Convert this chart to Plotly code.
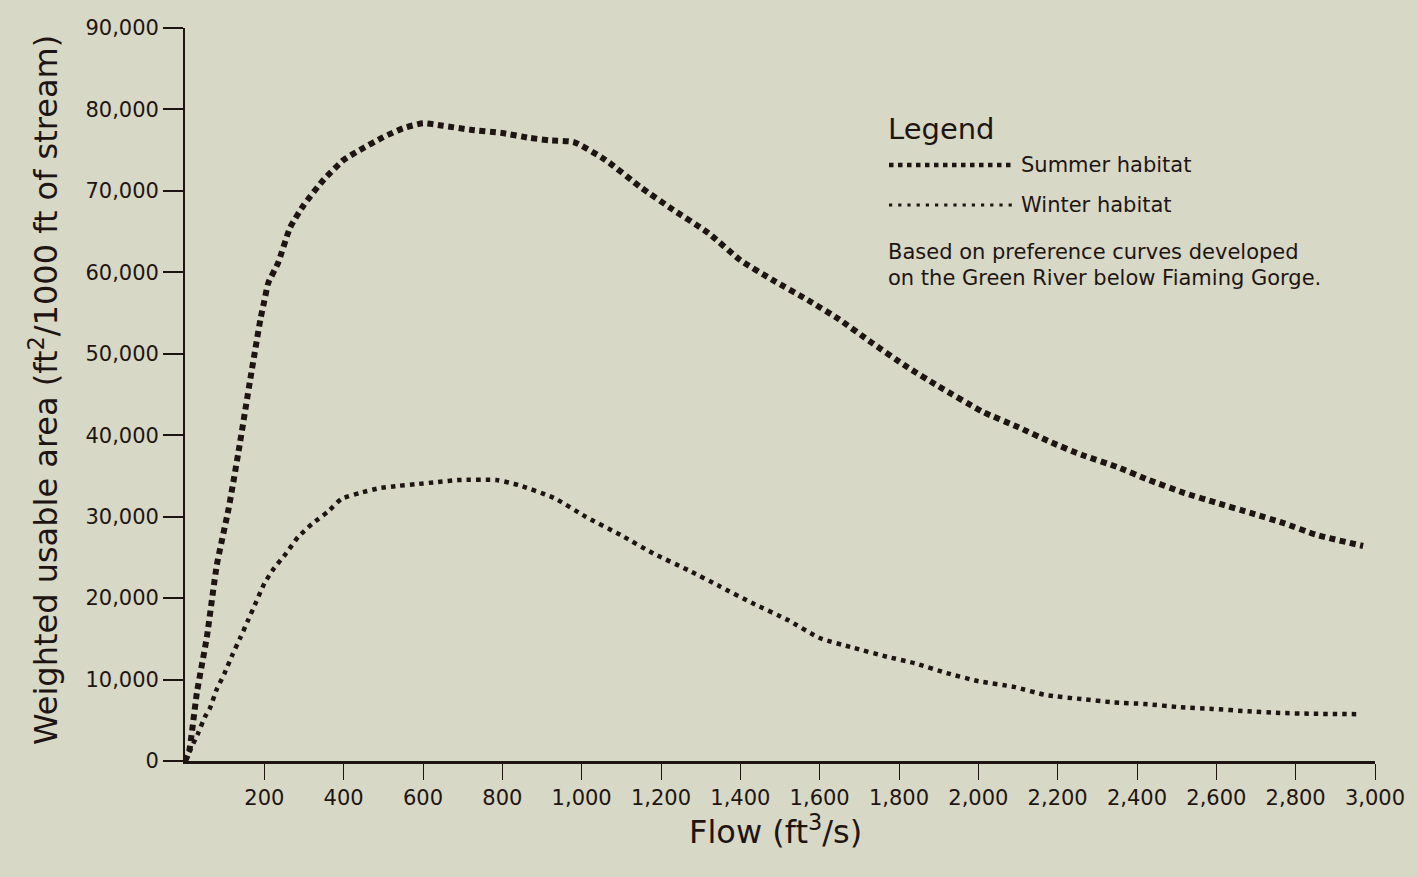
import plotly.graph_objects as go

# ---- data ----
summer_flow = [0, 10, 30, 55, 80, 110, 135, 165, 190, 200, 210, 235, 265, 300, 350, 400, 440, 500,
               550, 600, 650, 720, 800, 870, 920, 980, 1060, 1150, 1230, 1320, 1400, 1480, 1570,
               1650, 1730, 1820, 1900, 2010, 2100, 2180, 2260, 2350, 2430, 2520, 2600, 2690, 2770,
               2850, 2970]
summer_wua = [0, 1100, 8400, 15200, 24000, 31000, 38000, 47000, 54200, 56500, 58700, 61200, 65500,
              68300, 71400, 73800, 75000, 76600, 77700, 78300, 78000, 77500, 77100, 76500, 76200,
              76000, 73800, 70400, 67700, 64800, 61500, 59100, 56600, 54200, 51400, 48400, 46000,
              42900, 41000, 39200, 37600, 36100, 34500, 32900, 31700, 30400, 29200, 27800, 26400]

winter_flow = [0, 33, 50, 63, 80, 100, 120, 140, 160, 180, 200, 225, 255, 285, 320, 360, 395, 440,
               490, 540, 585, 635, 690, 785, 840, 930, 1010, 1100, 1180, 1270, 1350, 1430, 1520,
               1600, 1685, 1770, 1840, 1920, 2000, 2090, 2170, 2260, 2340, 2420, 2510, 2590, 2680,
               2760, 2840, 2960]
winter_wua = [0, 3400, 5400, 6500, 8800, 10800, 13100, 15200, 17400, 19600, 21800, 23700, 25500,
              27500, 29100, 30600, 32200, 32900, 33500, 33800, 34000, 34250, 34500, 34500, 33900,
              32300, 30000, 27700, 25500, 23400, 21400, 19400, 17300, 15100, 13900, 12800, 12000,
              10800, 9800, 9100, 8100, 7600, 7200, 7000, 6600, 6400, 6100, 5900, 5800, 5750]

x_ticks = [200, 400, 600, 800, 1000, 1200, 1400, 1600, 1800, 2000, 2200, 2400, 2600, 2800, 3000]
x_ticktext = ["200", "400", "600", "800", "1,000", "1,200", "1,400", "1,600", "1,800", "2,000",
              "2,200", "2,400", "2,600", "2,800", "3,000"]
y_ticks = [0, 10000, 20000, 30000, 40000, 50000, 60000, 70000, 80000, 90000]
y_ticktext = ["0", "10,000", "20,000", "30,000", "40,000", "50,000", "60,000", "70,000",
              "80,000", "90,000"]

series_names = ["Summer habitat", "Winter habitat"]
legend_title = "Legend"
note_lines = ["Based on preference curves developed", "on the Green River below Fiaming Gorge."]

# ---- styling ----
BG = "#d7d8c5"
INK = "#1e1513"
FONT = "DejaVu Sans"

fig = go.Figure()
fig.add_trace(go.Scatter(x=summer_flow, y=summer_wua, mode="lines", name=series_names[0],
                         line=dict(color=INK, width=6, dash="6px,4.5px", shape="spline", smoothing=0.5),
                         showlegend=False))
fig.add_trace(go.Scatter(x=winter_flow, y=winter_wua, mode="lines", name=series_names[1],
                         line=dict(color=INK, width=4.5, dash="4.5px,5px", shape="spline", smoothing=0.5),
                         showlegend=False))

# plot area pixel geometry: x 185..1375, y 28..761
L, R, T, B = 185, 1375, 28, 761
W, H = R - L, B - T


def px(xp):
    return (xp - L) / W


def py(yp):
    return (B - yp) / H


# legend block (drawn manually)
fig.add_shape(type="line", xref="paper", yref="paper", x0=px(889), x1=px(1013), y0=py(165), y1=py(165),
              line=dict(color=INK, width=4.5, dash="4.5px,4.5px"))
fig.add_shape(type="line", xref="paper", yref="paper", x0=px(889), x1=px(1013), y0=py(205), y1=py(205),
              line=dict(color=INK, width=3.2, dash="3.2px,6px"))

anns = [
    dict(text=legend_title, x=px(886), y=py(129), font=dict(size=29, family=FONT, color=INK)),
    dict(text=series_names[0], x=px(1019), y=py(165), font=dict(size=21, family=FONT, color=INK)),
    dict(text=series_names[1], x=px(1019), y=py(205), font=dict(size=21, family=FONT, color=INK)),
    dict(text=note_lines[0], x=px(886), y=py(252), font=dict(size=21, family=FONT, color=INK)),
    dict(text=note_lines[1], x=px(886), y=py(278), font=dict(size=21, family=FONT, color=INK)),
]
for a in anns:
    fig.add_annotation(xref="paper", yref="paper", xanchor="left", yanchor="middle",
                       showarrow=False, **a)

# axis titles
fig.add_annotation(xref="paper", yref="paper", x=px(44), y=py(390), xanchor="center", yanchor="middle",
                   textangle=-90, showarrow=False,
                   text="Weighted usable area (ft<sup>2</sup>/1000 ft of stream)",
                   font=dict(size=32, family=FONT, color=INK))
fig.add_annotation(xref="paper", yref="paper", x=px(775), y=py(830), xanchor="center", yanchor="middle",
                   showarrow=False, text="Flow (ft<sup>3</sup>/s)",
                   font=dict(size=32, family=FONT, color=INK))

fig.update_layout(
    width=1417, height=877,
    margin=dict(l=L, r=1417 - R, t=T, b=877 - B),
    paper_bgcolor=BG, plot_bgcolor=BG,
    font=dict(family=FONT, color=INK, size=21),
    xaxis=dict(range=[0, 3000], tickvals=x_ticks, ticktext=x_ticktext, showgrid=False, zeroline=False,
               showline=True, linecolor=INK, linewidth=2.5, ticks="outside", ticklen=16,
               tickwidth=1.3, tickcolor=INK, tickfont=dict(size=21, family=FONT, color=INK)),
    yaxis=dict(range=[0, 90000], tickvals=y_ticks, ticktext=y_ticktext, showgrid=False, zeroline=False,
               showline=True, linecolor=INK, linewidth=1.8, ticks="outside", ticklen=20,
               tickwidth=2.2, tickcolor=INK, tickfont=dict(size=21, family=FONT, color=INK)),
)

fig.write_html(
    "out.html",
    config={"displayModeBar": False},
    post_script="document.body.style.margin='0';document.body.style.overflow='hidden';"
                "document.body.style.background='" + BG + "';",
)
